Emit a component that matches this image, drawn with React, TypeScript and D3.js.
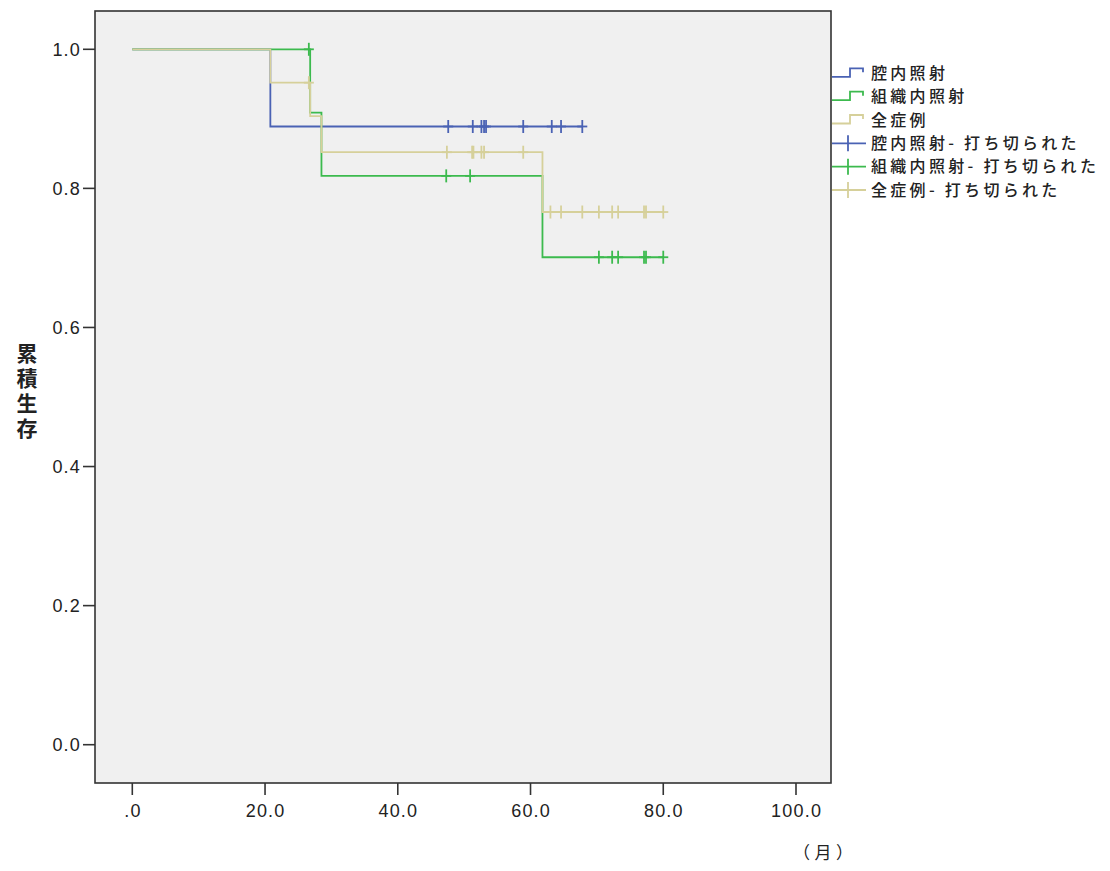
import React from 'react';
import * as d3 from 'd3';

// Kaplan-Meier curves (months, cumulative survival)
const seriesNames = ["腔内照射", "組織内照射", "全症例"];
const seriesColors = ["#4a62b4", "#3cba4e", "#d6d09a"];

const blueTimes = [0, 20.8];
const blueSurv = [1.0, 0.889];
const blueEnd = 67.8;
const blueCensor = [47.6, 51.3, 52.6, 53.0, 53.3, 58.9, 63.2, 64.6, 67.8];

const greenTimes = [0, 26.8, 28.5, 61.8];
const greenSurv = [1.0, 0.909, 0.818, 0.701];
const greenEnd = 80.0;
const greenCensor = [26.6, 47.3, 50.9, 70.3, 72.3, 73.2, 77.1, 77.4, 80.0];

const tanTimes = [0, 20.8, 26.8, 28.5, 61.8];
const tanSurv = [1.0, 0.952, 0.904, 0.852, 0.766];
const tanEnd = 80.0;
const tanCensor = [26.6, 47.4, 51.2, 51.4, 52.6, 53.0, 58.9, 63.0, 64.6, 67.8, 70.3, 72.3, 73.2, 77.1, 77.4, 80.0];

const xTicks = [0, 20, 40, 60, 80, 100];
const yTicks = [0, 0.2, 0.4, 0.6, 0.8, 1.0];

const legendLabels = [
  seriesNames[0], seriesNames[1], seriesNames[2],
  "腔内照射- 打ち切られた", "組織内照射- 打ち切られた", "全症例- 打ち切られた"
];

const yTitle = "累積生存";
const xTitle = ["（", "月", "）"];

const frame = {left: 95, top: 11, right: 831, bottom: 783};

export default function App() {
  const x = d3.scaleLinear().domain([0, 100]).range([132.3, 796]);
  const y = d3.scaleLinear().domain([0, 1]).range([744.7, 49.3]);

  const curves = [
    {times: blueTimes, surv: blueSurv, end: blueEnd, censor: blueCensor},
    {times: greenTimes, surv: greenSurv, end: greenEnd, censor: greenCensor},
    {times: tanTimes, surv: tanSurv, end: tanEnd, censor: tanCensor},
  ];

  const stepLine = d3.line<[number, number]>()
    .x(d => x(d[0]))
    .y(d => y(d[1]))
    .curve(d3.curveStepAfter);

  const survAt = (c: any, t: number) => {
    let s = c.surv[0];
    c.times.forEach((tt: number, i: number) => { if (tt <= t) s = c.surv[i]; });
    return s;
  };

  const tickFmt = (v: number) => v === 0 ? ".0" : d3.format(".1f")(v);
  const font = "'Liberation Sans', Arial, sans-serif";
  const jpFont = "'Noto Sans CJK JP', sans-serif";

  const legendY = [73.3, 96.7, 120, 143.3, 166.7, 190];

  return (
    <svg width={1110} height={871} style={{position: "absolute", left: 0, top: 0, background: "#fff"}}>
      <rect x={frame.left} y={frame.top} width={frame.right - frame.left} height={frame.bottom - frame.top}
        fill="#f0f0f0" />

      {curves.map((c, i) => {
        const pts: [number, number][] = c.times.map((t, j) => [t, c.surv[j]] as [number, number]);
        pts.push([c.end, c.surv[c.surv.length - 1]]);
        return (
          <g key={i}>
            <path d={stepLine(pts) || ""} fill="none" stroke={seriesColors[i]} strokeWidth={1.8} />
            {c.censor.map((t, k) => {
              const cx = x(t), cy = y(survAt(c, t));
              return (
                <g key={k} stroke={seriesColors[i]} strokeWidth={1.8}>
                  <line x1={cx} x2={cx} y1={cy - 6.5} y2={cy + 6.5} />
                  <line x1={cx - 5} x2={cx + 5} y1={cy} y2={cy} />
                </g>
              );
            })}
          </g>
        );
      })}

      <rect x={frame.left} y={frame.top} width={frame.right - frame.left} height={frame.bottom - frame.top}
        fill="none" stroke="#333" strokeWidth={1.6} />

      {yTicks.map((v, i) => (
        <g key={i}>
          <line x1={83} x2={frame.left} y1={y(v)} y2={y(v)} stroke="#333" strokeWidth={1.6} />
          <text x={81} y={y(v)} dy="0.36em" textAnchor="end" fontFamily={font} fontSize={18}
            letterSpacing={1.2} fill="#222">
            {d3.format(".1f")(v)}
          </text>
        </g>
      ))}

      {xTicks.map((v, i) => (
        <g key={i}>
          <line x1={x(v)} x2={x(v)} y1={frame.bottom} y2={795} stroke="#333" strokeWidth={1.6} />
          <text x={x(v) + 0.6} y={811} dy="0.36em" textAnchor="middle" fontFamily={font} fontSize={18}
            letterSpacing={1.2} fill="#222">
            {tickFmt(v)}
          </text>
        </g>
      ))}

      <text y={853} dy="0.36em" fontFamily={jpFont} fontSize={17} fill="#222">
        <tspan x={810} textAnchor="end">{xTitle[0]}</tspan>
        <tspan x={823} textAnchor="middle">{xTitle[1]}</tspan>
        <tspan x={836} textAnchor="start">{xTitle[2]}</tspan>
      </text>

      <text x={27} y={343} fontFamily={jpFont} fontSize={21} fontWeight="bold" fill="#222"
        writingMode="vertical-rl" letterSpacing={4}>{yTitle}</text>

      {legendLabels.map((lab, i) => {
        const ly = legendY[i];
        const col = seriesColors[i % 3];
        return (
          <g key={i}>
            {i < 3 ? (
              <path d={`M832,${ly + 3.5}H850V${ly - 5}H863V${ly - 1}`} fill="none" stroke={col} strokeWidth={1.8} />
            ) : (
              <g stroke={col} strokeWidth={1.8}>
                <line x1={832} x2={866} y1={ly} y2={ly} />
                <line x1={848} x2={848} y1={ly - 8} y2={ly + 8} />
              </g>
            )}
            <text x={871} y={ly} dy="0.36em" fontFamily={jpFont} fontSize={16} fontWeight={500}
              letterSpacing={3.3} fill="#222">{lab}</text>
          </g>
        );
      })}
    </svg>
  );
}
